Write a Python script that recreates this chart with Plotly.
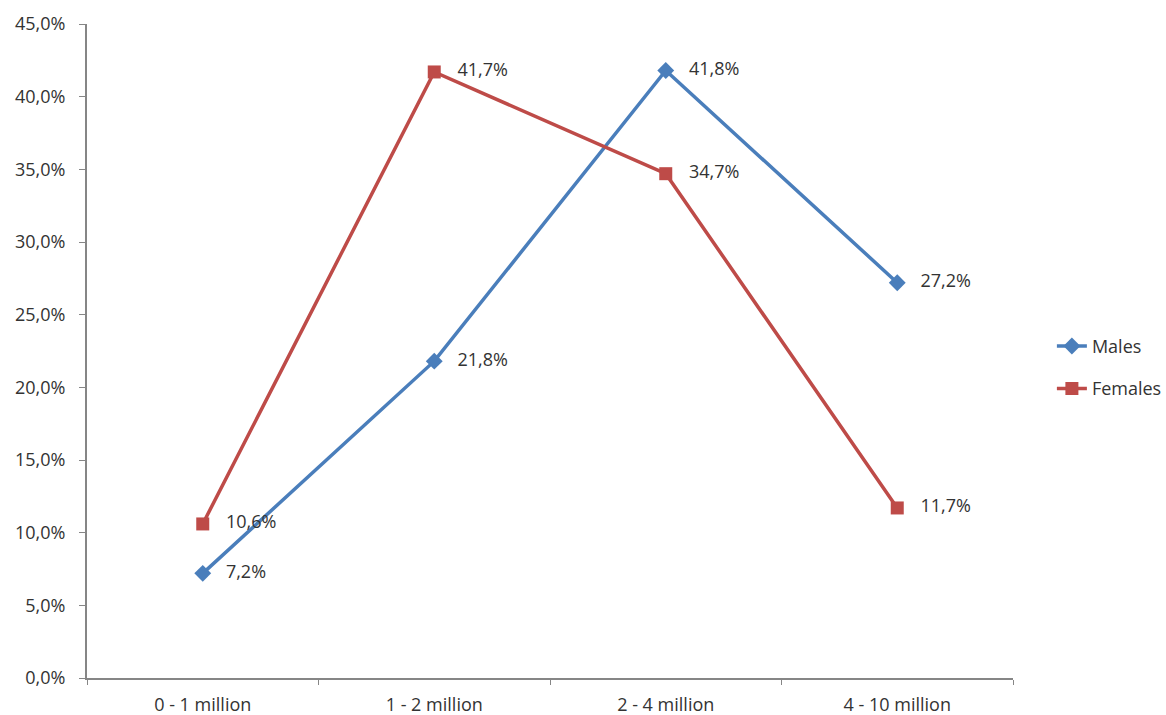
import plotly.graph_objects as go

categories = ["0 - 1 million", "1 - 2 million", "2 - 4 million", "4 - 10 million"]
males = [7.2, 21.8, 41.8, 27.2]
females = [10.6, 41.7, 34.7, 11.7]
y_ticks = [0, 5, 10, 15, 20, 25, 30, 35, 40, 45]


def pct(v):
    return f"{v:.1f}%".replace(".", ",")


def label(v):
    # a little breathing room between the marker and its value
    return "\u00a0\u00a0\u00a0" + pct(v)


font_family = "Open Sans, Liberation Sans, Arial, sans-serif"
text_color = "#333333"

fig = go.Figure()
fig.add_trace(go.Scatter(
    x=categories, y=males, name="Males", legendgroup="m",
    mode="lines+markers+text",
    line=dict(color="#4A7EBB", width=3.5),
    marker=dict(symbol="diamond", size=13, color="#4A7EBB"),
    text=[label(v) for v in males], textposition="middle right",
    textfont=dict(size=18, color=text_color, family=font_family),
))
fig.add_trace(go.Scatter(
    x=categories, y=females, name="Females", legendgroup="f",
    mode="lines+markers+text",
    line=dict(color="#BE4B48", width=3.5),
    marker=dict(symbol="square", size=13, color="#BE4B48"),
    text=[label(v) for v in females], textposition="middle right",
    textfont=dict(size=18, color=text_color, family=font_family),
))

fig.update_layout(
    width=1166, height=715,
    margin=dict(l=87, r=153, t=24, b=37, autoexpand=False),
    paper_bgcolor="white", plot_bgcolor="white",
    font=dict(family=font_family, size=18, color=text_color),
    legend=dict(x=1.042, y=0.475, xanchor="left", yanchor="middle",
                traceorder="grouped", tracegroupgap=16,
                font=dict(size=18, color=text_color),
                itemwidth=30),
)
fig.update_xaxes(
    type="category", showline=True, linecolor="#868686", linewidth=2,
    ticks="outside", ticklen=5, tickcolor="#868686", tickson="boundaries",
    ticklabelstandoff=9,
    showgrid=False, zeroline=False, range=[-0.5, 3.5],
)
fig.update_yaxes(
    range=[0, 45], tickvals=y_ticks, ticktext=[pct(v) for v in y_ticks],
    showline=True, linecolor="#868686", linewidth=2,
    ticks="outside", ticklen=6, tickcolor="#868686",
    ticklabelstandoff=10,
    showgrid=False, zeroline=False,
)

fig.write_html("out.html")
